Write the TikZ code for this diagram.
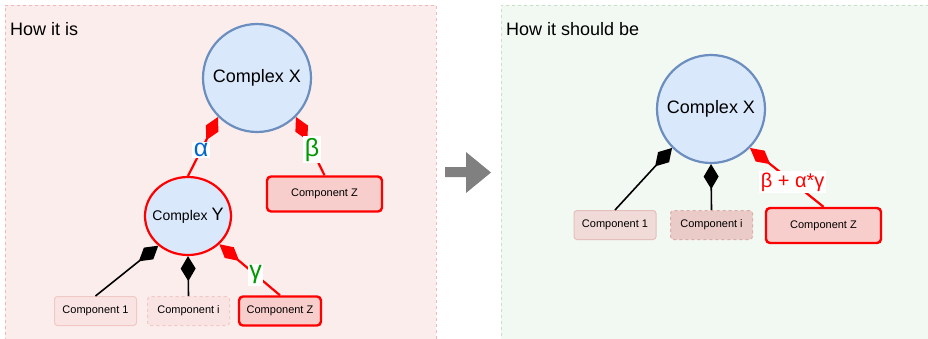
\documentclass[tikz,border=0pt]{standalone}
\usepackage{fontspec}
\setmainfont{Liberation Sans}
\usetikzlibrary{arrows.meta,shapes.geometric}

\definecolor{leftbg}{RGB}{251,237,236}
\definecolor{leftbd}{RGB}{242,184,184}
\definecolor{rightbg}{RGB}{242,248,242}
\definecolor{rightbd}{RGB}{200,224,200}
\definecolor{cxfill}{RGB}{218,232,252}
\definecolor{cxline}{RGB}{108,142,191}
\definecolor{zfill}{RGB}{248,206,204}
\definecolor{paleL}{RGB}{250,228,227}
\definecolor{paleLbd}{RGB}{240,200,198}
\definecolor{paleR}{RGB}{240,219,216}
\definecolor{paleRbd}{RGB}{228,192,189}
\definecolor{paleRi}{RGB}{234,203,199}
\definecolor{paleRibd}{RGB}{220,172,168}
\definecolor{alphablue}{RGB}{0,102,204}
\definecolor{greekgreen}{RGB}{0,153,0}
\definecolor{shiftgray}{RGB}{128,128,128}

\tikzset{
  panel/.style={dash pattern=on 3pt off 3pt, line width=0.8pt},
  heading/.style={anchor=base west, inner sep=0pt, font=\fontsize{18}{20}\selectfont},
  complexnode/.style={circle, draw=cxline, fill=cxfill, line width=2.2pt,
    minimum size=108pt, inner sep=0pt, font=\fontsize{18}{20}\selectfont},
  subcomplex/.style={ellipse, draw=red, fill=cxfill, line width=2.2pt,
    minimum width=86pt, minimum height=78pt, inner sep=0pt},
  compbox/.style={rectangle, rounded corners=3pt, minimum width=82pt,
    minimum height=29pt, inner sep=0pt, font=\fontsize{11}{13}\selectfont,
    line width=1pt},
  zbox/.style={compbox, draw=red, fill=zfill, line width=2.4pt, rounded corners=4pt},
  bigz/.style={zbox, minimum width=115pt, minimum height=35pt},
  redlink/.style={draw=red, line width=2.2pt, -{Diamond[length=26pt,width=14pt]}},
  blacklink/.style={draw=black, line width=1.6pt, -{Diamond[length=25pt,width=15pt]}},
  weight/.style={fill=white, inner sep=1.5pt, font=\fontsize{25}{27}\selectfont},
}

\begin{document}
\begin{tikzpicture}[x=1pt, y=-1pt]
  \useasboundingbox (0,0) rectangle (928,338);

  % panel backgrounds
  \fill[leftbg] (5,5) rectangle (436,345);
  \draw[panel, leftbd] (436,345) -- (436,5) -- (5,5) -- (5,345);
  \fill[rightbg] (501,5) rectangle (935,345);
  \draw[panel, rightbd] (935,5) -- (501,5) -- (501,345);

  % transition arrow
  \fill[shiftgray] (445,167) -- (466,167) -- (466,152) -- (491,172.5)
    -- (466,193) -- (466,177) -- (445,177) -- cycle;

  % ---- left panel ----
  \node[heading] (t1) at (10,35) {How it is};

  \node[complexnode] (X) at (257,78) {Complex X};
  \node[subcomplex] (Y) at (188,216)
    {\makebox[0pt]{{\fontsize{14}{16}\selectfont Complex }{\fontsize{18}{20}\selectfont Y}}};
  \node[bigz] (Zt) at (324.5,194) {Component Z};

  \node[compbox, fill=paleL, draw=paleLbd] (c1) at (95.5,311) {Component 1};
  \node[compbox, fill=paleL, draw=paleLbd, dashed] (ci) at (188.5,311) {Component i};
  \node[zbox, minimum width=82pt] (Zb) at (280,311) {Component Z};

  \draw[redlink] (Y.north) -- node[weight, text=alphablue, pos=0.44] (la) {α} (X.225);
  \draw[redlink] (Zt.north) -- node[weight, text=greekgreen, pos=0.44] (lb) {β} (X.315);
  \draw[blacklink] (c1.north) -- (Y.225);
  \draw[blacklink] (ci.north) -- (Y.south);
  \draw[redlink] (Zb.north) -- node[weight, text=greekgreen, pos=0.4] (lg) {γ} (Y.318);

  % ---- right panel ----
  \node[heading] (t2) at (506,35) {How it should be};

  \node[complexnode] (X2) at (711,109) {Complex X};
  \node[compbox, fill=paleR, draw=paleRbd] (c1r) at (615,225) {Component 1};
  \node[compbox, fill=paleRi, draw=paleRibd, dashed] (cir) at (711.5,225) {Component i};
  \node[bigz] (Zr) at (823.5,225.5) {Component Z};

  \draw[blacklink] (c1r.north) -- (X2.225);
  \draw[blacklink] (cir.north) -- (X2.south);
  \draw[redlink] (Zr.north) -- node[weight, text=red, pos=0.42,
    font=\fontsize{20}{22}\selectfont] (lsum) {β + α*γ} (X2.315);
\end{tikzpicture}
\end{document}
